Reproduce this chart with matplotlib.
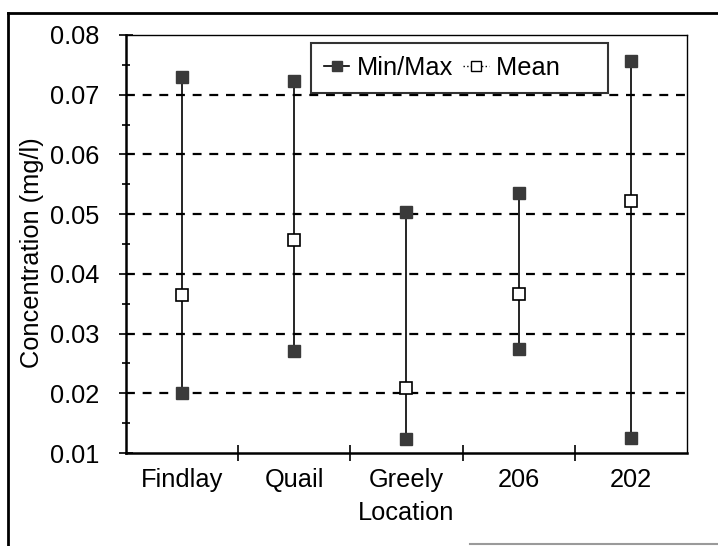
import numpy as np
import matplotlib.pyplot as plt
from matplotlib.lines import Line2D

plt.rcParams['font.family'] = ['Liberation Sans', 'DejaVu Sans']

# concentration summary per sampling location (mg/l)
locations = ['Findlay', 'Quail', 'Greely', '206', '202']
conc_min = [0.0200, 0.0271, 0.0123, 0.0274, 0.0125]
conc_max = [0.0730, 0.0723, 0.0504, 0.0535, 0.0756]
conc_mean = [0.0365, 0.0457, 0.0209, 0.0366, 0.0522]

FS = 18.3

fig = plt.figure(figsize=(7.18, 5.46), dpi=100)
ax = fig.add_axes([0.1755, 0.1703, 0.7813, 0.7656])

# outer frame around the whole chart
fig.add_artist(Line2D([8/718, 8/718], [1 - 13/546, 1 - 545/546], transform=fig.transFigure,
                      color='black', lw=2))
fig.add_artist(Line2D([8/718, 1.0], [1 - 13/546, 1 - 13/546], transform=fig.transFigure,
                      color='black', lw=2))
fig.add_artist(Line2D([470/718, 1.0], [1 - 544/546, 1 - 544/546], transform=fig.transFigure,
                      color='#9a9a9a', lw=1.5))

x = np.arange(len(locations))
ax.vlines(x, conc_min, conc_max, colors='black', lw=1.2, zorder=3)
ax.plot(x, conc_min, 's', ms=9, mfc='#3a3a3a', mec='#3a3a3a', zorder=4)
ax.plot(x, conc_max, 's', ms=9, mfc='#3a3a3a', mec='#3a3a3a', zorder=4)
ax.plot(x, conc_mean, 's', ms=9, mfc='white', mec='black', mew=1.2, zorder=5)

ax.set_xlim(-0.5, len(locations) - 0.5)
ax.set_ylim(0.01, 0.08)
ax.set_yticks(np.arange(0.01, 0.0801, 0.01))
ax.set_yticks(np.arange(0.015, 0.08, 0.01), minor=True)
ax.set_yticklabels([f'{v:.2f}' for v in np.arange(0.01, 0.0801, 0.01)])
ax.set_xticks(x)
ax.set_xticklabels(locations)
ax.set_xticks(np.arange(0.5, len(locations) - 0.5, 1), minor=True)

for v in np.arange(0.02, 0.0701, 0.01):
    ax.axhline(v, color='black', lw=1.6, ls=(0, (4, 3.5)), zorder=1)

ax.tick_params(axis='y', which='major', direction='inout', length=10, width=1.2,
               labelsize=FS, pad=14)
ax.tick_params(axis='y', which='minor', direction='inout', length=6, width=1.2)
ax.tick_params(axis='x', which='major', length=0, labelsize=FS, pad=11)
ax.tick_params(axis='x', which='minor', direction='inout', length=12, width=1.2)

for side in ['left', 'bottom']:
    ax.spines[side].set_linewidth(1.8)
for side in ['top', 'right']:
    ax.spines[side].set_linewidth(1.0)

ax.set_ylabel('Concentration (mg/l)', fontsize=FS)
ax.yaxis.set_label_coords(-0.147, 0.48)
ax.set_xlabel('Location', fontsize=FS, labelpad=6)

h_minmax = Line2D([], [], color='black', lw=1.2, marker='s', ms=7,
                  mfc='#3a3a3a', mec='#3a3a3a')
h_mean = Line2D([], [], color='black', lw=1.0, ls=':', marker='s', ms=7,
                mfc='white', mec='black')
leg = ax.legend([h_minmax, h_mean], ['Min/Max', 'Mean     '], ncol=2, loc='upper left',
                bbox_to_anchor=(0.33, 0.98), fontsize=FS, frameon=True, fancybox=False,
                handlelength=1.0, handletextpad=0.3, columnspacing=0.4,
                borderpad=0.5, borderaxespad=0)
leg.get_frame().set_edgecolor('black')
leg.get_frame().set_linewidth(1.5)

fig.savefig('out.png', dpi=100)
